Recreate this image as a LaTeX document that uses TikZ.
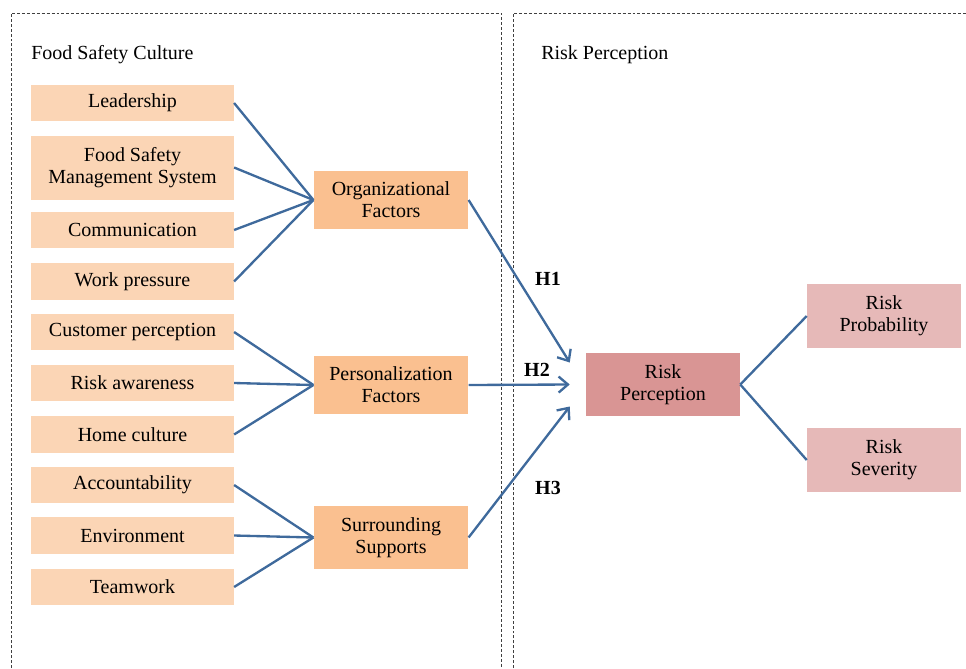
\documentclass[tikz,border=0pt]{standalone}
\usepackage{fontspec}
\setmainfont{Liberation Serif}
\usetikzlibrary{arrows.meta,calc}
\definecolor{leftfill}{HTML}{FBD5B5}
\definecolor{midfill}{HTML}{FAC090}
\definecolor{rpfill}{HTML}{D99594}
\definecolor{outfill}{HTML}{E6B9B8}
\definecolor{linkblue}{HTML}{3F6A9C}

\begin{document}
\begin{tikzpicture}[x=0.75pt, y=-0.75pt, font=\fontsize{15}{16.5}\selectfont]
    \tikzstyle{fnode} = [fill=leftfill, inner sep=0pt, minimum width=152pt, minimum height=27.5pt, align=center]
    \tikzstyle{mnode} = [fill=midfill, inner sep=0pt, minimum width=116pt, minimum height=43pt, align=center]
    \tikzstyle{rnode} = [fill=rpfill, inner sep=0pt, minimum width=115.5pt, minimum height=47.5pt, align=center]
    \tikzstyle{onode} = [fill=outfill, inner sep=0pt, minimum width=115.5pt, minimum height=47.5pt, align=center]
    \tikzstyle{link} = [draw=linkblue, line width=1.75pt]
    \tikzstyle{hyp} = [link, -{Straight Barb[length=7pt, width=12pt]}]
    \tikzstyle{frame} = [draw=black!75, line width=0.6pt, dash pattern=on 2.2pt off 1.5pt]
    \useasboundingbox (0,0) rectangle (966,668);

    % dashed frames
    \draw[frame] (11,668) |- (501,13) -- (501,668);
    \draw[frame] (513,668) |- (966,13);
    \node[anchor=west, inner sep=0pt] (fsc) at (31,55) {Food Safety Culture};
    \node[anchor=west, inner sep=0pt] (rpt) at (541,55) {Risk Perception};

    % food safety culture items
    \node[fnode] (lead) at (132.5,103) {Leadership};
    \node[fnode, minimum height=48pt] (fsms) at (132.5,167.5) {Food Safety\\Management System};
    \node[fnode] (comm) at (132.5,230) {Communication};
    \node[fnode] (work) at (132.5,281.5) {Work pressure};
    \node[fnode] (cust) at (132.5,332) {Customer perception};
    \node[fnode] (awar) at (132.5,383) {Risk awareness};
    \node[fnode] (home) at (132.5,434.5) {Home culture};
    \node[fnode] (acco) at (132.5,485) {Accountability};
    \node[fnode] (envi) at (132.5,535.5) {Environment};
    \node[fnode] (team) at (132.5,587) {Teamwork};

    % factors
    \node[mnode] (org) at (391,200) {Organizational\\Factors};
    \node[mnode] (pers) at (391,385) {Personalization\\Factors};
    \node[mnode, minimum height=47pt] (surr) at (391,537.5) {Surrounding\\Supports};

    % risk perception
    \node[rnode] (rp) at (663,384.5) {Risk\\Perception};
    \node[onode] (prob) at (884,316) {Risk\\Probability};
    \node[onode] (sev) at (884,460) {Risk\\Severity};

    \draw[link] (lead.east) -- (org.west);
    \draw[link] (fsms.east) -- (org.west);
    \draw[link] (comm.east) -- (org.west);
    \draw[link] (work.east) -- (org.west);

    \draw[link] (cust.east) -- (pers.west);
    \draw[link] (awar.east) -- (pers.west);
    \draw[link] (home.east) -- (pers.west);

    \draw[link] (acco.east) -- (surr.west);
    \draw[link] (envi.east) -- (surr.west);
    \draw[link] (team.east) -- (surr.west);

    % hypotheses
    \coordinate (e1) at ($(rp.west)+(-16,-22)$);
    \coordinate (e2) at ($(rp.west)+(-16,0)$);
    \coordinate (e3) at ($(rp.west)+(-16,22)$);
    \draw[hyp] (org.east) -- (e1);
    \draw[hyp] (pers.east) -- (e2);
    \draw[hyp] (surr.east) -- (e3);
    \node[font=\fontsize{15}{16.5}\selectfont\bfseries] (h1) at (548,279) {H1};
    \node[font=\fontsize{15}{16.5}\selectfont\bfseries] (h2) at (537,370) {H2};
    \node[font=\fontsize{15}{16.5}\selectfont\bfseries] (h3) at (548,488) {H3};

    \draw[link] (rp.east) -- (prob.west);
    \draw[link] (rp.east) -- (sev.west);
\end{tikzpicture}
\end{document}
